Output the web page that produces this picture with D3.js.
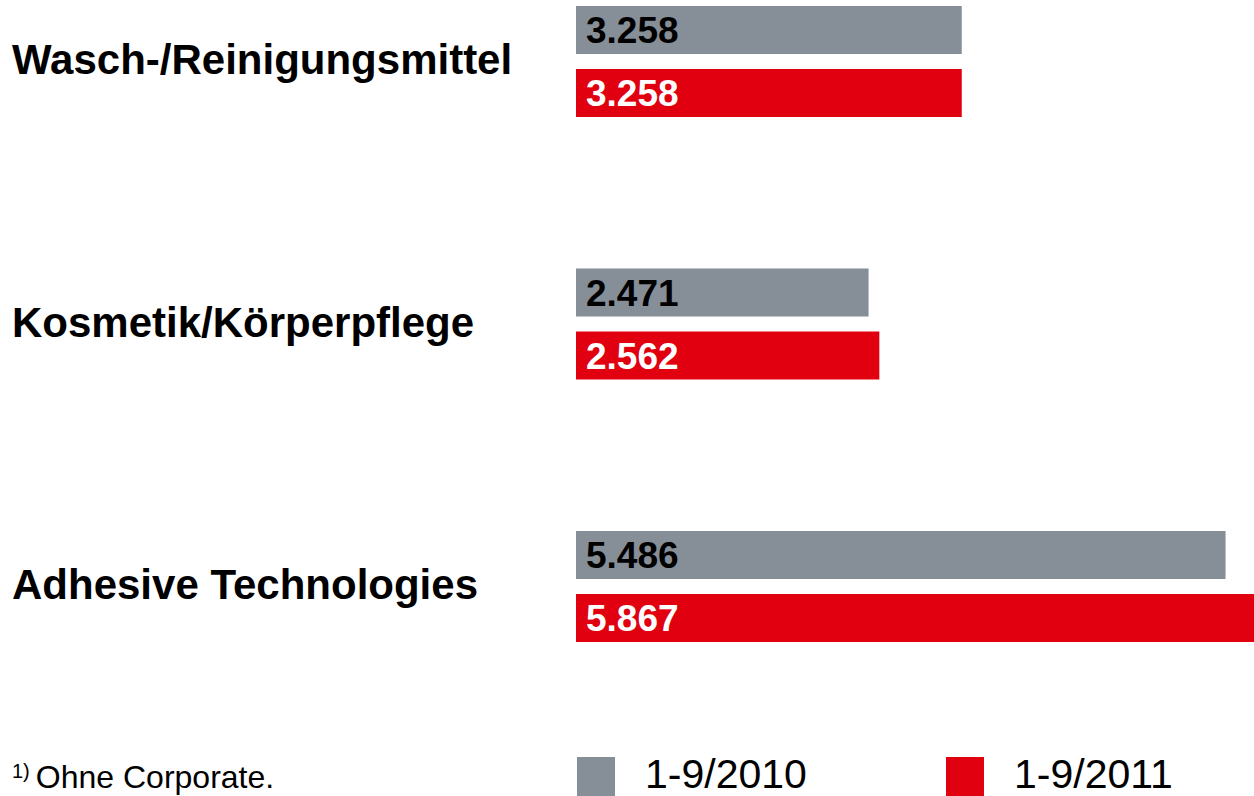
<!DOCTYPE html>
<html>
<head>
<meta charset="utf-8">
<script src="https://cdn.jsdelivr.net/npm/d3@7"></script>
<style>
  html, body { margin: 0; padding: 0; background: #fff; }
  svg { display: block; font-family: "Liberation Sans", Arial, sans-serif; }
</style>
</head>
<body>
<svg id="chart" width="1254" height="796"></svg>
<script>
// Umsatz nach Unternehmensbereichen 1)
const categories = ["Wasch-/Reinigungsmittel", "Kosmetik/Körperpflege", "Adhesive Technologies"];
const values2010 = [3258, 2471, 5486];
const values2011 = [3258, 2562, 5867];
const seriesNames = ["1-9/2010", "1-9/2011"];
const footnote = "Ohne Corporate.";

const width = 1254, height = 796;
const colors = { gray: "#868e97", red: "#e1000f" };

const svg = d3.select("#chart");

// x: 0 sits at 576px, the red Adhesive bar runs off the right edge
const x = d3.scaleLinear().domain([0, 6000]).range([576, 576 + 710.4]);

// one band per category (gray bar on top, red bar below)
const y = d3.scaleBand()
  .domain(categories)
  .range([6, 6 + 262.5 * 3])
  .paddingInner(0)
  .paddingOuter(0);

const barH = 48;
const redOffset = 63;

const fmt = v => d3.format(",")(v).replace(",", ".");

const rows = categories.map((c, i) => ({ cat: c, v10: values2010[i], v11: values2011[i] }));

const g = svg.append("g");

const group = g.selectAll("g.row")
  .data(rows)
  .join("g")
  .attr("class", "row")
  .attr("transform", d => `translate(0,${y(d.cat)})`);

// category labels
group.append("text")
  .attr("x", 12)
  .attr("y", 68)
  .attr("font-size", 42)
  .attr("font-weight", "bold")
  .attr("fill", "#000")
  .text(d => d.cat);

// 2010 bars
group.append("rect")
  .attr("x", x(0))
  .attr("y", 0)
  .attr("width", d => x(d.v10) - x(0))
  .attr("height", barH)
  .attr("fill", colors.gray);

group.append("text")
  .attr("x", x(0) + 10)
  .attr("y", barH / 2 + 13)
  .attr("font-size", 37)
  .attr("font-weight", "bold")
  .attr("fill", "#000")
  .text(d => fmt(d.v10));

// 2011 bars
group.append("rect")
  .attr("x", x(0))
  .attr("y", redOffset)
  .attr("width", d => x(d.v11) - x(0))
  .attr("height", barH)
  .attr("fill", colors.red);

group.append("text")
  .attr("x", x(0) + 10)
  .attr("y", redOffset + barH / 2 + 13)
  .attr("font-size", 37)
  .attr("font-weight", "bold")
  .attr("fill", "#fff")
  .text(d => fmt(d.v11));

// footnote
const foot = svg.append("text")
  .attr("x", 12)
  .attr("y", 788)
  .attr("font-size", 32)
  .attr("fill", "#000");
foot.append("tspan").attr("font-size", 20).attr("dy", -10).text("1)");
foot.append("tspan").attr("dy", 10).attr("dx", 6).text(footnote);

// legend
const legendX = [577, 946];
const legendColors = [colors.gray, colors.red];
const legend = svg.selectAll("g.legend")
  .data(seriesNames)
  .join("g")
  .attr("class", "legend")
  .attr("transform", (d, i) => `translate(${legendX[i]},757)`);

legend.append("rect")
  .attr("width", 38)
  .attr("height", 40)
  .attr("fill", (d, i) => legendColors[i]);

legend.append("text")
  .attr("x", 68)
  .attr("y", 31)
  .attr("font-size", 41)
  .attr("fill", "#000")
  .text(d => d);
</script>
</body>
</html>
